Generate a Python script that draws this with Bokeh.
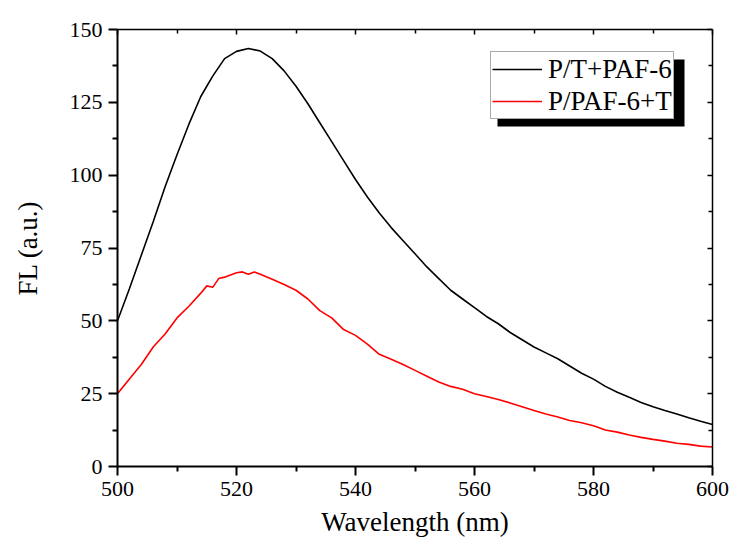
from bokeh.plotting import figure
from bokeh.models import (Range1d, LinearAxis, FixedTicker, Legend, LegendItem, BoxAnnotation)
from bokeh.embed import file_html
from bokeh.resources import INLINE

# ---- data ----
wavelength_black = [500, 502, 504, 506, 508, 510, 512, 514, 516, 518, 520, 522, 524, 526,
                    528, 530, 532, 534, 536, 538, 540, 542, 544, 546, 548, 550, 552, 554,
                    556, 558, 560, 562, 564, 566, 568, 570, 572, 574, 576, 578, 580, 582,
                    584, 586, 588, 590, 592, 594, 596, 598, 600]
fl_black = [50, 61, 72.5, 84, 96, 107, 117.5, 127, 134, 140, 142.5, 143.5, 142.6, 140,
            135.8, 130.5, 124.5, 118, 111.5, 105, 98.5, 92.5, 87, 82, 77.5, 73, 68.5, 64.5,
            60.5, 57.5, 54.5, 51.5, 49, 46, 43.5, 41, 39, 37, 34.5, 32, 30, 27.5,
            25.5, 23.8, 22, 20.5, 19.2, 18, 16.7, 15.5, 14.4]

wavelength_red = [500, 502, 504, 506, 508, 510, 512, 514, 515, 516, 517, 518, 520, 521,
                  522, 523, 524, 526, 528, 530, 532, 534, 536, 538, 540, 542, 544, 546,
                  548, 550, 552, 554, 556, 558, 560, 562, 564, 566, 568, 570, 572, 574,
                  576, 578, 580, 582, 584, 586, 588, 590, 592, 594, 596, 598, 600]
fl_red = [25, 30, 35, 41, 45.5, 51, 55, 59.5, 62, 61.5, 64.5, 65, 66.5, 66.8,
          66, 66.8, 66, 64.3, 62.5, 60.5, 57.5, 53.5, 51, 47, 45, 42, 38.5, 36.8,
          35, 33, 31, 29, 27.5, 26.5, 25, 24, 23, 21.8, 20.5, 19.2, 18, 17,
          15.8, 15, 14, 12.5, 11.8, 10.8, 10, 9.3, 8.7, 8, 7.6, 7, 6.7]

x_major = [500, 520, 540, 560, 580, 600]
x_minor = [510, 530, 550, 570, 590]
y_major = [0, 25, 50, 75, 100, 125, 150]
y_minor = [12.5, 37.5, 62.5, 87.5, 112.5, 137.5]

series_names = ["P/T+PAF-6", "P/PAF-6+T"]
series_colors = ["#000000", "#ff0000"]

FONT = "'Liberation Serif', 'Times New Roman', serif"

p = figure(width=734, height=548, output_backend="svg", toolbar_location=None,
           x_range=Range1d(500, 600), y_range=Range1d(0, 150),
           min_border_left=117, min_border_right=22, min_border_top=29,
           min_border_bottom=82)
p.outline_line_color = None
p.xgrid.visible = False
p.ygrid.visible = False
p.background_fill_color = "white"
p.border_fill_color = "white"

r1 = p.line(wavelength_black, fl_black, line_color=series_colors[0], line_width=1.6)
r2 = p.line(wavelength_red, fl_red, line_color=series_colors[1], line_width=1.6)

xt = FixedTicker(ticks=x_major, minor_ticks=x_minor)
yt = FixedTicker(ticks=y_major, minor_ticks=y_minor)

def style_main(ax, label):
    ax.axis_label = label
    ax.axis_label_text_font = FONT
    ax.axis_label_text_font_size = "27px"
    ax.axis_label_text_font_style = "normal"
    ax.axis_label_text_color = "black"
    ax.major_label_text_font = FONT
    ax.major_label_text_font_size = "22px"
    ax.major_label_text_color = "black"
    ax.axis_line_width = 2
    ax.axis_line_color = "black"
    ax.major_tick_line_width = 2
    ax.minor_tick_line_width = 2
    ax.major_tick_in = 0
    ax.major_tick_out = 9
    ax.minor_tick_in = 0
    ax.minor_tick_out = 5
    ax.major_label_standoff = 6

p.xaxis.ticker = xt
p.yaxis.ticker = yt
style_main(p.xaxis[0], "Wavelength (nm)")
style_main(p.yaxis[0], "FL (a.u.)")
p.xaxis.axis_label_standoff = 8
p.yaxis.axis_label_standoff = 24

for loc in ("above", "right"):
    ax = LinearAxis(ticker=xt if loc == "above" else yt)
    ax.major_label_text_font_size = "0px"
    ax.major_label_text_color = None
    ax.major_label_standoff = 0
    ax.axis_line_width = 1.5
    ax.major_tick_line_width = 1.5
    ax.minor_tick_line_width = 1.5
    ax.major_tick_in = 5
    ax.major_tick_out = 0
    ax.minor_tick_in = 4
    ax.minor_tick_out = 0
    p.add_layout(ax, loc)

# legend drop shadow (screen units, relative to the plot area)
shadow = BoxAnnotation(left=380, right=567, top=340 + 67, bottom=340,
                       left_units="screen", right_units="screen",
                       top_units="screen", bottom_units="screen",
                       fill_color="black", fill_alpha=1.0, line_color=None,
                       level="overlay")
p.add_layout(shadow)

items = [LegendItem(label=series_names[0], renderers=[r1]),
         LegendItem(label=series_names[1], renderers=[r2])]
lg = Legend(items=items, location=(373, 347), orientation="vertical",
            label_text_font=FONT, label_text_font_size="27px",
            label_height=32, glyph_height=32, glyph_width=50,
            label_standoff=6, padding=1, spacing=0, margin=0,
            background_fill_color="white", background_fill_alpha=1.0,
            border_line_color="#555555", border_line_width=1,
            label_text_color="black")
p.add_layout(lg)

open("out.html", "w").write(file_html(p, INLINE))
